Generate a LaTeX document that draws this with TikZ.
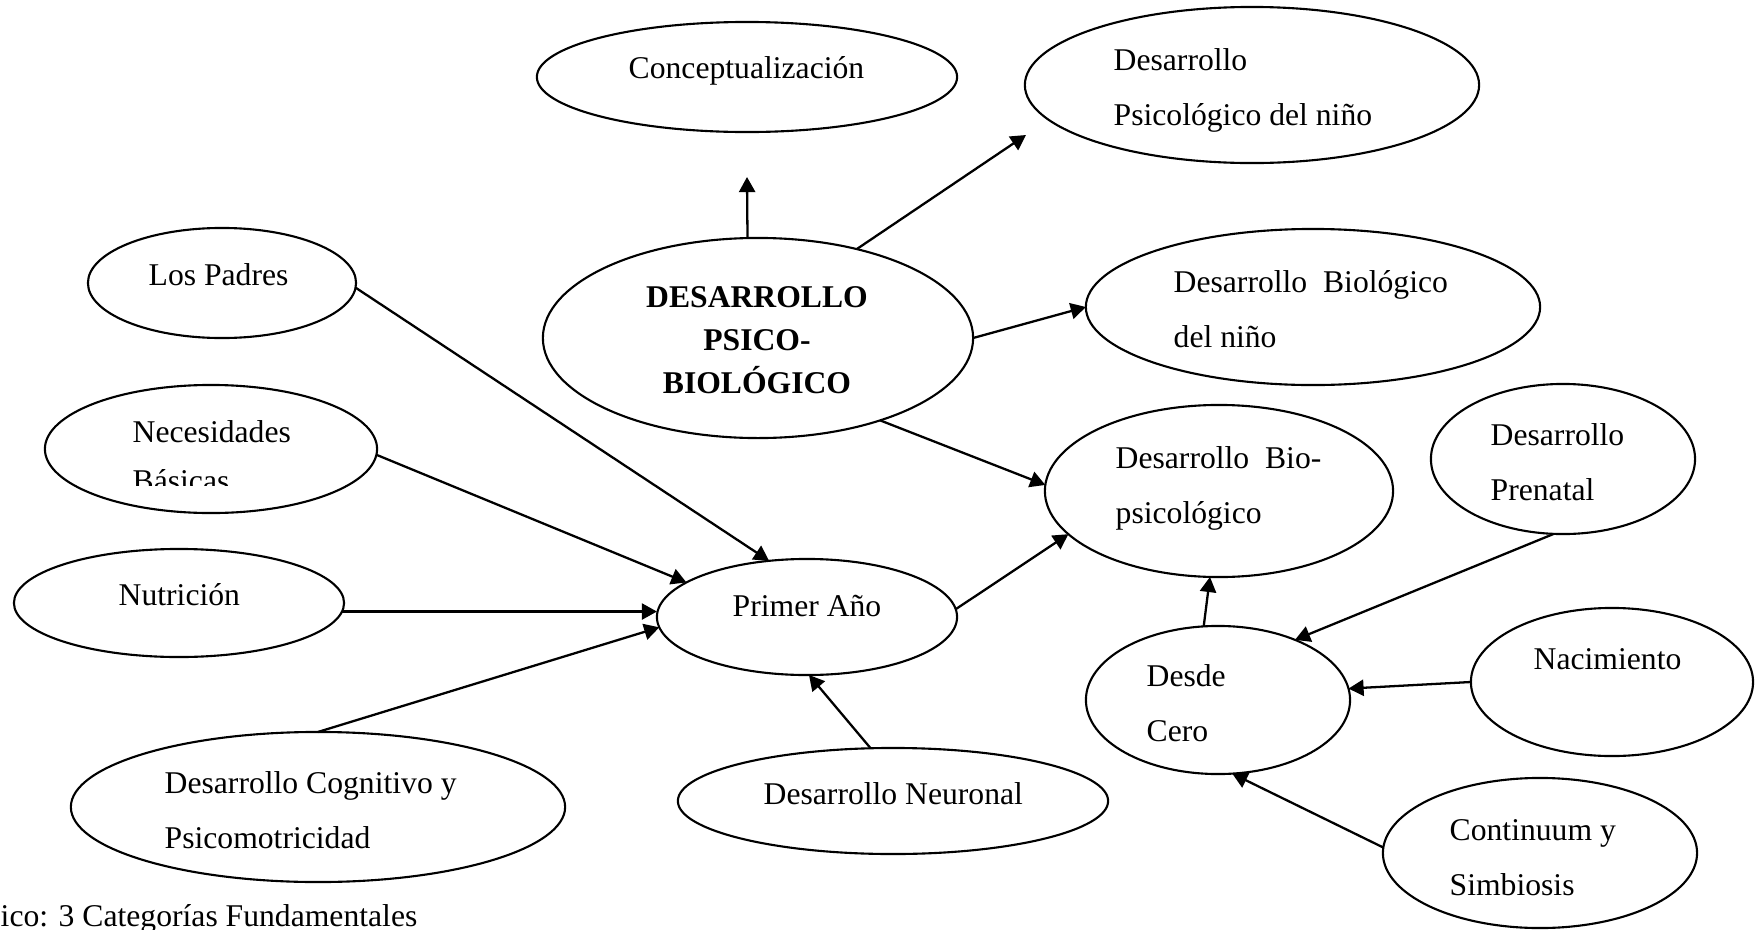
\documentclass[tikz,border=0pt]{standalone}
\usepackage{fontspec}
\setmainfont{Liberation Serif}
\usetikzlibrary{arrows.meta,shapes.geometric}

\begin{document}
\begin{tikzpicture}[x=0.01cm, y=-0.01cm,
    burbuja/.style={ellipse, draw, line width=0.6pt, inner sep=0pt, outer sep=0pt},
    etiqueta/.style={anchor=base west, align=left, inner sep=0pt, font=\fontsize{9}{15.4}\selectfont},
    flecha/.style={-{Triangle[length=4.3pt,width=4.6pt]}, line width=0.65pt}]
  \useasboundingbox (0,0) rectangle (1756,930);

  % Central concept and its branches (label base = last line)
  \node[burbuja, minimum width=4.30cm, minimum height=2.00cm] (central) at (758,338) {};
  \node[anchor=base, align=center, inner sep=0pt, font=\bfseries\fontsize{9}{12.1}\selectfont]
    (t-central) at (757,393) {DESARROLLO\\PSICO-\\BIOLÓGICO};
  \node[burbuja, minimum width=4.20cm, minimum height=1.10cm] (concepto) at (747,77) {};
  \node[etiqueta] (t-concepto) at (628,78) {Conceptualización};
  \node[burbuja, minimum width=4.54cm, minimum height=1.56cm] (psicologico) at (1252,85) {};
  \node[etiqueta] (t-psicologico) at (1113,125) {Desarrollo\\Psicológico del niño};
  \node[burbuja, minimum width=4.54cm, minimum height=1.56cm] (biologico) at (1313,307) {};
  \node[etiqueta] (t-biologico) at (1173,347) {Desarrollo\ \ Biológico\\del niño};
  \node[burbuja, minimum width=3.48cm, minimum height=1.72cm] (biopsico) at (1219,491) {};
  \node[etiqueta] (t-biopsico) at (1115,523) {Desarrollo\ \ Bio-\\psicológico};

  % Left side: Primer Año
  \node[burbuja, minimum width=2.68cm, minimum height=1.10cm] (padres) at (222,283) {};
  \node[etiqueta] (t-padres) at (148,285) {Los Padres};
  \node[burbuja, minimum width=3.32cm, minimum height=1.28cm] (necesidades) at (211,449) {};
  \begin{scope}
    \clip (0,370) rectangle (400,485);
    \node[etiqueta, font=\fontsize{9}{13.7}\selectfont] (t-necesidades) at (132,491) {Necesidades\\Básicas};
  \end{scope}
  \node[burbuja, minimum width=3.30cm, minimum height=1.08cm] (nutricion) at (179,603) {};
  \node[etiqueta] (t-nutricion) at (118,605) {Nutrición};
  \node[burbuja, minimum width=3.00cm, minimum height=1.16cm] (primer) at (807,617) {};
  \node[etiqueta] (t-primer) at (732,616) {Primer Año};
  \node[burbuja, minimum width=4.94cm, minimum height=1.50cm] (cognitivo) at (318,807) {};
  \node[etiqueta] (t-cognitivo) at (164,848) {Desarrollo Cognitivo y\\Psicomotricidad};
  \node[burbuja, minimum width=4.30cm, minimum height=1.06cm] (neuronal) at (893,801) {};
  \node[etiqueta] (t-neuronal) at (763,804) {Desarrollo Neuronal};

  % Right side: Desde Cero
  \node[burbuja, minimum width=2.64cm, minimum height=1.50cm] (prenatal) at (1563,459) {};
  \node[etiqueta] (t-prenatal) at (1490,500) {Desarrollo\\Prenatal};
  \node[burbuja, minimum width=2.64cm, minimum height=1.48cm] (cero) at (1218,700) {};
  \node[etiqueta] (t-cero) at (1146,741) {Desde\\Cero};
  \node[burbuja, minimum width=2.82cm, minimum height=1.48cm] (nacimiento) at (1612,682) {};
  \node[etiqueta] (t-nacimiento) at (1533,669) {Nacimiento};
  \node[burbuja, minimum width=3.14cm, minimum height=1.50cm] (continuum) at (1540,853) {};
  \node[etiqueta] (t-continuum) at (1449,895) {Continuum y\\Simbiosis};

  % Arrows
  \coordinate (hacia-concepto) at (747,177);
  \coordinate (hacia-psicologico) at (1026,135);
  \draw[flecha] (central.96) -- (hacia-concepto);
  \draw[flecha] (central.42) -- (hacia-psicologico);
  \draw[flecha] (central.east) -- (biologico.west);
  \draw[flecha] (central.-34) -- (biopsico.178);
  \draw[flecha] (padres.-2) -- (primer.124);
  \draw[flecha] (necesidades.-2) -- (primer.164);
  \draw[flecha] (nutricion.-3) -- (nutricion.-3 -| primer.west);
  \draw[flecha] (cognitivo.north) -- (primer.184);
  \draw[flecha] (neuronal.113) -- (primer.272);
  \draw[flecha] (primer.3) -- (biopsico.196);
  \draw[flecha] (cero.101) -- (biopsico.264);
  \draw[flecha] (prenatal.263) -- (cero.38);
  \draw[flecha] (nacimiento.west) -- (cero.5);
  \draw[flecha] (continuum.178) -- (cero.-79);

  % Caption
  \node[anchor=base west, inner sep=0pt, font=\fontsize{9}{11}\selectfont] (pie) at (0,926)
    {ico: 3 Categorías Fundamentales};
\end{tikzpicture}
\end{document}
